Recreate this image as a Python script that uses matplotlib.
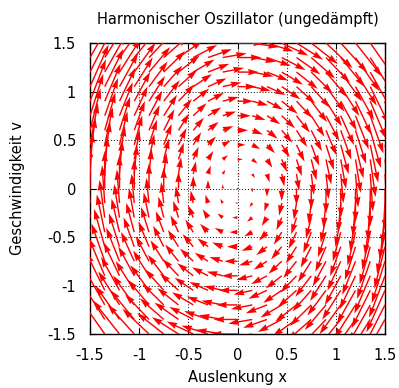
import numpy as np
import matplotlib
matplotlib.use("Agg")
import matplotlib.pyplot as plt

# grid positions (displacement x and velocity v)
x_grid = [-1.5, -1.35, -1.2, -1.05, -0.9, -0.75, -0.6, -0.45, -0.3, -0.15, 0.0,
          0.15, 0.3, 0.45, 0.6, 0.75, 0.9, 1.05, 1.2, 1.35, 1.5]
v_grid = [-1.5, -1.35, -1.2, -1.05, -0.9, -0.75, -0.6, -0.45, -0.3, -0.15, 0.0,
          0.15, 0.3, 0.45, 0.6, 0.75, 0.9, 1.05, 1.2, 1.35, 1.5]
omega_sq = 1.6      # restoring constant of the oscillator
dt = 0.18           # arrow time step
tick_values = [-1.5, -1, -0.5, 0, 0.5, 1, 1.5]
tick_labels = ["-1.5", "-1", "-0.5", "0", "0.5", "1", "1.5"]

X, V = np.meshgrid(x_grid, v_grid)
U = V * dt
W = -omega_sq * X * dt

fig = plt.figure(figsize=(3.99, 3.88), dpi=100)
ax = fig.add_axes([90/399, 1-334/388, 295/399, 291/388])
ax.set_xlim(-1.5, 1.5)
ax.set_ylim(-1.5, 1.5)
ax.grid(True, color="black", linestyle=(0, (1, 2)), linewidth=0.7)
ax.set_axisbelow(True)
ax.quiver(X, V, U, W, angles="xy", scale_units="xy", scale=1,
          color="#ff0000", width=0.0048, headwidth=4.5, headlength=7.5,
          headaxislength=7, zorder=3)
ax.set_xticks(tick_values)
ax.set_xticklabels(tick_labels)
ax.set_yticks(tick_values)
ax.set_yticklabels(tick_labels)
ax.tick_params(direction="in", top=True, right=True, labelsize=10.5, length=4)
ax.tick_params(axis="x", pad=10)
ax.tick_params(axis="y", pad=10)
for s in ax.spines.values():
    s.set_linewidth(1.0)
ax.set_xlabel("Auslenkung x", fontsize=10.5, labelpad=5)
ax.set_ylabel("Geschwindigkeit v", fontsize=10.5, labelpad=16)
ax.set_title("Harmonischer Oszillator (ungedämpft)", fontsize=10.5, pad=14)
fig.savefig("out.png", dpi=100)
